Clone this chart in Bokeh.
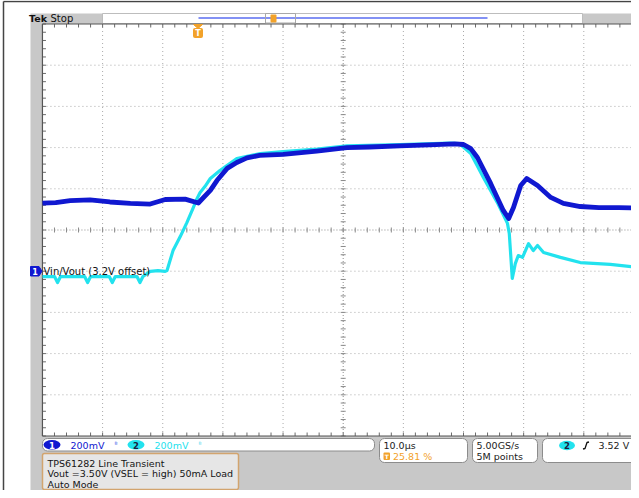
import numpy as np
from bokeh.plotting import figure
from bokeh.models import Range1d
from bokeh.embed import file_html
from bokeh.resources import INLINE
from bokeh.core.properties import value

# ---------------- data ----------------
# Channel 2 (cyan) = Vin ; time in microseconds relative to trigger, volts
vin_t = [-25.8, -23.8, -23.3, -22.8, -18.8, -18.3, -17.8, -14.7, -14.2, -13.7,
         -10.1, -9.6, -9.1, -7.9, -6.6, -5.4, -5.1, -4.1, -2.9, -1.8,
         -0.8, -0.1, 0.4, 1.2, 2.1, 3.7, 6.5, 10.4, 14.2, 19.8,
         24.8, 33.6, 41.9, 43.5, 45.4, 47.5, 49.8, 51.5, 51.8, 52.3,
         52.8, 53.3, 54.0, 55.0, 55.8, 56.5, 57.5, 60.3, 63.6, 68.6,
         73.5, 74.2]
vin_v = [3.174, 3.174, 3.145, 3.174, 3.174, 3.145, 3.174, 3.174, 3.145, 3.174,
         3.174, 3.145, 3.174, 3.199, 3.203, 3.199, 3.203, 3.300, 3.368, 3.436,
         3.504, 3.553, 3.582, 3.611, 3.650, 3.689, 3.747, 3.771, 3.781, 3.793,
         3.808, 3.815, 3.822, 3.820, 3.771, 3.655, 3.534, 3.432, 3.383, 3.165,
         3.237, 3.276, 3.267, 3.334, 3.300, 3.325, 3.291, 3.267, 3.242, 3.233,
         3.218, 3.216]

# Channel 1 (blue) = Vout
vout_t = [-25.8, -23.6, -21.2, -17.9, -14.6, -11.2, -7.9, -5.4, -2.1, 0.1,
          2.1, 3.2, 4.9, 6.5, 8.2, 10.3, 14.2, 19.8, 24.8, 28.6,
          33.6, 38.5, 42.7, 44.2, 45.4, 46.5, 48.7, 50.8, 51.7, 52.5,
          53.7, 54.7, 56.5, 58.7, 60.8, 63.6, 66.7, 70.0, 73.2, 74.2]
vout_v = [3.530, 3.533, 3.543, 3.546, 3.536, 3.529, 3.526, 3.548, 3.550, 3.531,
          3.592, 3.640, 3.699, 3.728, 3.750, 3.762, 3.767, 3.783, 3.800, 3.803,
          3.808, 3.813, 3.818, 3.815, 3.795, 3.752, 3.626, 3.495, 3.456, 3.509,
          3.616, 3.650, 3.616, 3.558, 3.529, 3.514, 3.509, 3.509, 3.507, 3.507]

ch_scales = ["200mV", "200mV"]
time_label = "10.0\u00b5s"
trig_pos_label = "25.81 %"
rate_labels = ["5.00GS/s", "5M points"]
trig_level_label = "3.52 V"
note_lines = ["TPS61282 Line Transient",
              "Vout =3.50V (VSEL = high) 50mA Load",
              "Auto Mode"]
marker_label = "Vin/Vout (3.2V offset)"

TIME_DIV = 10.0      # us / div
VOLT_DIV = 0.2       # V / div
TRIG_POS = 25.81     # % of record before trigger
V_CENTER = 3.4       # V at screen centre

# ---------------- screen geometry ----------------
GX0, PXD_X = 41.95, 60.15     # graticule left edge, px per horizontal div
GY_C, PXD_Y = 229.5, 41.2     # graticule centre, px per vertical div
t_left = -TRIG_POS / 100.0 * 10 * TIME_DIV
t_right = t_left + 10 * TIME_DIV
v_bot = V_CENTER - 5 * VOLT_DIV
v_top = V_CENTER + 5 * VOLT_DIV
t_cen = t_left + 5 * TIME_DIV


def T(X):
    return t_left + (X - GX0) / PXD_X * TIME_DIV


def V(Y):
    return V_CENTER + (GY_C - Y) / PXD_Y * VOLT_DIV


DT = TIME_DIV / PXD_X   # us per px
DV = VOLT_DIV / PXD_Y   # V per px

BLUE = "#1018d0"
CYAN = "#22e2ee"
ORANGE = "#f2a22a"
PANEL = "#c8c8c8"
FONT = value("DejaVu Sans")

W, H = 631, 490
p = figure(width=W, height=H, x_range=Range1d(T(0), T(W)),
           y_range=Range1d(V(H), V(0)), output_backend="svg",
           toolbar_location=None, x_axis_type=None, y_axis_type=None,
           min_border=0)
p.outline_line_color = None
p.background_fill_color = "white"
p.border_fill_color = "white"
p.grid.visible = False


def box(x0, y0, x1, y1, fill, line=None, lw=1.0, r=0):
    p.quad(left=[T(x0)], right=[T(x1)], top=[V(y0)], bottom=[V(y1)],
           fill_color=fill, line_color=line, line_width=lw,
           border_radius=int(r))


def txt(X, Y, s, color="#1a1a1a", size="9.5px", style="normal", align="left"):
    p.text(x=[T(X)], y=[V(Y)], text=[s], text_color=color, text_font=FONT,
           text_font_size=value(size), text_font_style=style,
           text_baseline="middle", text_align=align)


# ---------------- panels ----------------
p.segment(x0=[T(3)], y0=[V(1)], x1=[T(660)], y1=[V(1)],
          line_color="#444444", line_width=1.5)
p.segment(x0=[T(3)], y0=[V(1)], x1=[T(3)], y1=[V(505)],
          line_color="#444444", line_width=1.5)
box(30, 13, 660, 505, PANEL)
box(GX0, 23.5, 660, 435.5, "white")
box(102, 13, 582, 23, "white", "#bdbdbd", 1)

# ---------------- graticule ----------------
gx = [t_left + k * TIME_DIV for k in range(1, 10) if k != 5]
p.multi_line(xs=[[x, x] for x in gx], ys=[[v_bot, v_top]] * len(gx),
             line_color="#aaaaaa", line_width=1, line_dash="1 3")
gy = [v_bot + k * VOLT_DIV for k in range(1, 10) if k != 5]
p.multi_line(xs=[[t_left, t_right]] * len(gy), ys=[[v, v] for v in gy],
             line_color="#aaaaaa", line_width=1, line_dash="1 3")
# centre cross
p.segment(x0=[t_left, t_cen], y0=[V_CENTER, v_bot], x1=[t_right, t_cen],
          y1=[V_CENTER, v_top], line_color="#8e8e8e", line_width=1,
          line_dash="1 2")
tk_t = np.arange(t_left, t_right + 0.01, TIME_DIV / 5)
tk_v = np.arange(v_bot, v_top + 0.001, VOLT_DIV / 5)
p.segment(x0=tk_t, y0=V_CENTER - 2.5 * DV, x1=tk_t, y1=V_CENTER + 2.5 * DV,
          line_color="#8a8a8a", line_width=1)
p.segment(x0=t_cen - 2.5 * DT, y0=tk_v, x1=t_cen + 2.5 * DT, y1=tk_v,
          line_color="#8a8a8a", line_width=1)
# border ticks
p.segment(x0=tk_t, y0=v_top, x1=tk_t, y1=v_top - 3.5 * DV,
          line_color="#6a6a6a", line_width=1)
p.segment(x0=tk_t, y0=v_bot, x1=tk_t, y1=v_bot + 3.5 * DV,
          line_color="#6a6a6a", line_width=1)
p.segment(x0=t_left, y0=tk_v, x1=t_left + 3.5 * DT, y1=tk_v,
          line_color="#6a6a6a", line_width=1)
# borders
p.segment(x0=[t_left, t_left, t_left], y0=[v_bot, v_top, v_bot],
          x1=[t_left, T(660), T(660)], y1=[v_top, v_top, v_bot],
          line_color="#555555", line_width=1.2)

# ---------------- traces ----------------
p.line(vin_t, vin_v, line_color=CYAN, line_width=3.2, line_join="round")
p.line(vout_t, vout_v, line_color=BLUE, line_width=4.8, line_join="round")

# ---------------- top status bar ----------------
txt(28.5, 18, "Tek", "#111111", "9.5px", "bold")
txt(50, 18, "Stop", "#111111", "10px")
p.segment(x0=[T(198)], y0=[V(17.5)], x1=[T(487)], y1=[V(17.5)],
          line_color="#5a6cf0", line_width=1.5)
box(265, 13, 295, 22.5, None, "#a8a8a8", 1)
box(270, 14, 276, 22, ORANGE, None, r=1)
# trigger position marker
p.patch(x=[T(193), T(202), T(197.5)], y=[V(24), V(24), V(28)],
        fill_color=ORANGE, line_color=ORANGE)
box(192.5, 27.5, 202.5, 37.5, ORANGE, None, r=2)
txt(197.5, 32.8, "T", "white", "8px", "bold", "center")

# channel marker
p.patch(x=[T(30), T(38.5), T(41.5), T(38.5), T(30)],
        y=[V(266), V(266), V(270.7), V(275.5), V(275.5)],
        fill_color=BLUE, line_color=BLUE)
txt(34.5, 271, "1", "white", "8px", "bold", "center")
txt(43, 270.7, marker_label, "#111111", "10px")

# ---------------- bottom readouts ----------------
box(42, 438, 374, 450.5, "white", "#8c8c8c", 1, 5)
p.ellipse(x=[T(51.5), T(135.5)], y=[V(444.3), V(444.3)], width=17, height=9.5,
          width_units="screen", height_units="screen",
          fill_color=[BLUE, CYAN], line_color=None)
txt(51.5, 444.7, "1", "white", "8.5px", "bold", "center")
txt(135.5, 444.7, "2", "#1a1a40", "8.5px", "bold", "center")
txt(70, 444.5, ch_scales[0], BLUE, "9.5px")
txt(154, 444.5, ch_scales[1], CYAN, "9.5px")
txt(114, 444, "\u1d2e", "#3a5ae8", "7px")
txt(198, 444, "\u1d2e", "#5ad8ee", "7px")

box(379, 438, 467, 462, "white", "#8c8c8c", 1, 5)
txt(383, 445, time_label)
box(383, 452, 389.5, 459.5, ORANGE, None, r=1)
txt(386.2, 456, "T", "white", "6px", "bold", "center")
txt(392.5, 456, trig_pos_label, ORANGE, "9.5px")

box(472, 438, 537, 462, "white", "#8c8c8c", 1, 5)
txt(476, 445, rate_labels[0])
txt(476, 456, rate_labels[1])

box(542, 438, 660, 462, "white", "#8c8c8c", 1, 5)
p.ellipse(x=[T(566.5)], y=[V(445)], width=16, height=9.5,
          width_units="screen", height_units="screen",
          fill_color=CYAN, line_color=None)
txt(566.5, 445.4, "2", "#1a1a40", "8.5px", "bold", "center")
p.line(x=[T(582.5), T(584.5), T(586.5), T(588.5)],
       y=[V(448.5), V(448), V(442), V(441.5)], line_color="#111111",
       line_width=1.3)
txt(598, 445, trig_level_label)

box(42, 453, 238, 489, "#e6e6e6", "#d2a46e", 1.5, 2)
for i, s in enumerate(note_lines):
    txt(47, 462.5 + 10.7 * i, s, "#141414", "9.5px")

open("out.html", "w").write(file_html(p, INLINE))
